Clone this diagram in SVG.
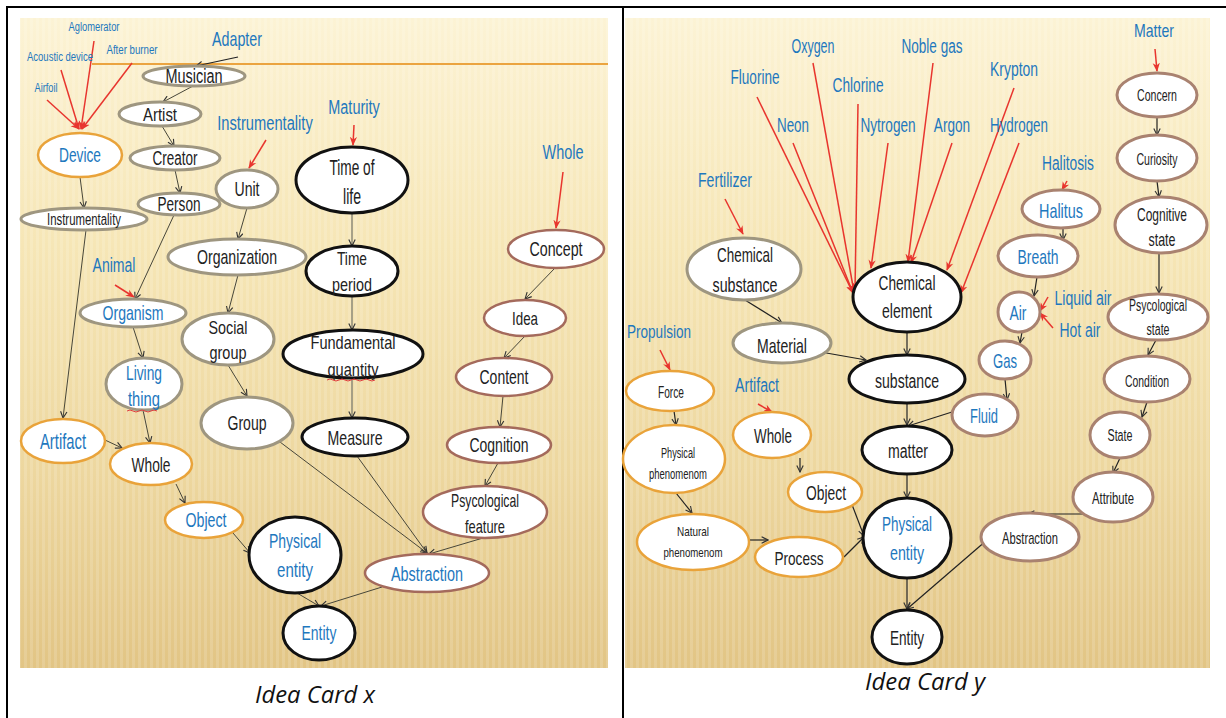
<svg xmlns="http://www.w3.org/2000/svg" width="1226" height="718" viewBox="0 0 1226 718">
<defs>
<linearGradient id="bg" x1="0" y1="0" x2="0" y2="1">
<stop offset="0" stop-color="#FCF3D5"/>
<stop offset="0.35" stop-color="#F6E6B6"/>
<stop offset="0.7" stop-color="#EDD79F"/>
<stop offset="1" stop-color="#E2C585"/>
</linearGradient>
<linearGradient id="ol" x1="0" y1="0" x2="1" y2="0">
<stop offset="0" stop-color="#F0B860" stop-opacity="0.3"/>
<stop offset="0.15" stop-color="#E59A2E"/>
<stop offset="1" stop-color="#EBA640"/>
</linearGradient>
<pattern id="st" width="6" height="10" patternUnits="userSpaceOnUse">
<rect x="0" y="0" width="3" height="10" fill="#FFFFFF" fill-opacity="0.14"/>
</pattern>
<marker id="ah" viewBox="0 0 10 10" refX="9" refY="5" markerWidth="8" markerHeight="8" markerUnits="userSpaceOnUse" orient="auto">
<path d="M1,1 L9,5 L1,9" fill="none" stroke="#333" stroke-width="1.4"/>
</marker>
<marker id="ar" viewBox="0 0 10 10" refX="9" refY="5" markerWidth="9" markerHeight="9" markerUnits="userSpaceOnUse" orient="auto">
<path d="M0,1 L10,5 L0,9 L3,5 z" fill="#E8352E"/>
</marker>
</defs>
<style>
.n ellipse{fill:#FFFFFF}
.g{stroke:#9E9680;stroke-width:3}
.o{stroke:#E9A33A;stroke-width:2.5}
.k{stroke:#111111;stroke-width:3}
.m{stroke:#A46A5C;stroke-width:2.5}
.m2{stroke:#A98270;stroke-width:3}
text{font-family:"Liberation Sans",Arial,sans-serif;text-anchor:middle;fill:#222222;font-size:20px}
.b{fill:#1E78BE}
.c path{fill:none;stroke:#48473A;stroke-width:1;marker-end:url(#ah)}
.c path.d{stroke:#222222;stroke-width:1.2}
.c path.gr{stroke:#8D8A78;stroke-width:1.5}
.c path.r{stroke:#E8352E;stroke-width:1.5;marker-end:url(#ar)}
.cap{font-family:"Open Sans","Noto Sans",sans-serif;font-style:italic;font-size:23px;fill:#111111}
</style>
<rect x="0" y="0" width="1226" height="718" fill="#FFFFFF"/>
<g id="backgrounds">
<rect x="20" y="18" width="588" height="650" fill="url(#bg)"/>
<rect x="20" y="18" width="588" height="650" fill="url(#st)"/>
<rect x="625" y="18" width="585" height="650" fill="url(#bg)"/>
<rect x="625" y="18" width="585" height="650" fill="url(#st)"/>
<line x1="92" y1="64" x2="608" y2="64" stroke="#EBA440" stroke-width="2"/>
<line x1="660" y1="39" x2="1210" y2="39" stroke="url(#ol)" stroke-width="3"/>
</g>
<g id="table" stroke="#000000" stroke-width="2" fill="none">
<line x1="6" y1="7" x2="1226" y2="7"/>
<line x1="7" y1="6" x2="7" y2="718"/>
<line x1="623" y1="6" x2="623" y2="718"/>
</g>
<g id="connectors" class="c">
<path class="d" d="M238,57 L196,66"/>
<path d="M193,86 L163,102"/>
<path d="M162,126 L174,146"/>
<path d="M175,170 L180,193"/>
<path d="M174,215 L135,299"/>
<path d="M247,208 L238,239"/>
<path d="M80,177 L84,208"/>
<path d="M86,230 L63,418"/>
<path d="M238,275 L228,313"/>
<path d="M228,365 L247,396"/>
<path d="M133,327 L143,358"/>
<path d="M143,410 L150,443"/>
<path d="M105,440 L122,448"/>
<path d="M176,484 L185,503"/>
<path d="M233,533 L250,553"/>
<path d="M280,442 L427,553"/>
<path d="M357,456 L427,553"/>
<path d="M483,538 L429,554"/>
<path class="gr" d="M352,213 L352,246"/>
<path class="gr" d="M352,296 L352,330"/>
<path class="gr" d="M352,378 L352,418"/>
<path d="M555,268 L525,299"/>
<path d="M525,336 L504,358"/>
<path d="M503,396 L500,427"/>
<path d="M498,463 L485,486"/>
<path d="M297,593 L319,606"/>
<path d="M382,587 L321,606"/>
<path class="r" d="M94,41 L81,129"/>
<path class="r" d="M61,70 L79,129"/>
<path class="r" d="M132,63 L82,129"/>
<path class="r" d="M47,100 L79,129"/>
<path class="r" d="M266,140 L249,168"/>
<path class="r" d="M354,125 L353,145"/>
<path class="r" d="M563,172 L556,228"/>
<path class="r" d="M115,285 L134,297"/>
<path class="r" d="M757,97 L853,293"/>
<path class="r" d="M813,63 L854,292"/>
<path class="r" d="M858,104 L855,290"/>
<path class="r" d="M793,143 L853,293"/>
<path class="r" d="M888,143 L871,268"/>
<path class="r" d="M933,63 L908,262"/>
<path class="r" d="M952,143 L911,263"/>
<path class="r" d="M1014,88 L947,270"/>
<path class="r" d="M1019,143 L961,293"/>
<path class="r" d="M725,199 L743,234"/>
<path class="r" d="M1155,49 L1157,71"/>
<path class="r" d="M1067,181 L1062,190"/>
<path class="r" d="M1048,297 L1040,311"/>
<path class="r" d="M1053,328 L1040,313"/>
<path class="r" d="M660,350 L670,370"/>
<path class="r" d="M758,404 L772,412"/>
<path class="d" d="M1157,117 L1157,135"/>
<path class="d" d="M1157,181 L1159,197"/>
<path class="d" d="M1159,253 L1159,293"/>
<path class="d" d="M1063,228 L1063,240"/>
<path class="d" d="M1037,277 L1034,296"/>
<path class="d" d="M1022,332 L1020,343"/>
<path class="d" d="M1005,379 L1007,400"/>
<path class="d" d="M952,412 L908,426"/>
<path class="d" d="M1156,340 L1148,355"/>
<path class="d" d="M1147,402 L1142,417"/>
<path class="d" d="M1120,458 L1113,473"/>
<path class="d" d="M1083,514 L1028,514"/>
<path class="d" d="M987,540 L907,609"/>
<path class="d" d="M745,300 L782,323"/>
<path class="d" d="M815,351 L866,360"/>
<path class="d" d="M907,332 L907,355"/>
<path class="d" d="M907,403 L907,425"/>
<path class="d" d="M907,474 L907,498"/>
<path class="d" d="M674,411 L676,425"/>
<path class="d" d="M800,458 L800,472"/>
<path class="d" d="M676,493 L692,513"/>
<path class="d" d="M749,540 L768,540"/>
<path class="d" d="M844,557 L864,537"/>
<path class="d" d="M851,502 L864,536"/>
<path class="d" d="M907,578 L907,609"/>
</g>
<g id="labels">
<text class="b" x="94" y="31" style="font-size:12px" textLength="51" lengthAdjust="spacingAndGlyphs">Aglomerator</text>
<text class="b" x="60" y="61" style="font-size:12px" textLength="66" lengthAdjust="spacingAndGlyphs">Acoustic device</text>
<text class="b" x="132" y="54" style="font-size:12px" textLength="51" lengthAdjust="spacingAndGlyphs">After burner</text>
<text class="b" x="46" y="92" style="font-size:12px" textLength="23" lengthAdjust="spacingAndGlyphs">Airfoil</text>
<text class="b" x="237" y="46" style="font-size:21px" textLength="50" lengthAdjust="spacingAndGlyphs">Adapter</text>
<text class="b" transform="translate(265,130) scale(0.7,1)" x="0" y="0" style="font-size:21px">Instrumentality</text>
<text class="b" transform="translate(354,114) scale(0.69,1)" x="0" y="0" style="font-size:21px">Maturity</text>
<text class="b" x="563" y="159" style="font-size:20px" textLength="41" lengthAdjust="spacingAndGlyphs">Whole</text>
<text class="b" x="114" y="272" style="font-size:20px" textLength="43" lengthAdjust="spacingAndGlyphs">Animal</text>
<text class="b" x="813" y="53" textLength="43" lengthAdjust="spacingAndGlyphs">Oxygen</text>
<text class="b" x="932" y="53" textLength="61" lengthAdjust="spacingAndGlyphs">Noble gas</text>
<text class="b" x="755" y="84" textLength="49" lengthAdjust="spacingAndGlyphs">Fluorine</text>
<text class="b" x="858" y="92" textLength="51" lengthAdjust="spacingAndGlyphs">Chlorine</text>
<text class="b" x="793" y="132" textLength="32" lengthAdjust="spacingAndGlyphs">Neon</text>
<text class="b" transform="translate(888,132) scale(0.68,1)" x="0" y="0">Nytrogen</text>
<text class="b" transform="translate(952,132) scale(0.68,1)" x="0" y="0">Argon</text>
<text class="b" x="725" y="187" textLength="54" lengthAdjust="spacingAndGlyphs">Fertilizer</text>
<text class="b" x="1014" y="76" textLength="48" lengthAdjust="spacingAndGlyphs">Krypton</text>
<text class="b" x="1019" y="132" textLength="58" lengthAdjust="spacingAndGlyphs">Hydrogen</text>
<text class="b" x="1068" y="170" textLength="52" lengthAdjust="spacingAndGlyphs">Halitosis</text>
<text class="b" x="1154" y="37" style="font-size:19px" textLength="40" lengthAdjust="spacingAndGlyphs">Matter</text>
<text class="b" x="1083" y="305" textLength="57" lengthAdjust="spacingAndGlyphs">Liquid air</text>
<text class="b" x="1080" y="337" textLength="41" lengthAdjust="spacingAndGlyphs">Hot air</text>
<text class="b" x="659" y="338" style="font-size:19px" textLength="64" lengthAdjust="spacingAndGlyphs">Propulsion</text>
<text class="b" x="757" y="392" textLength="44" lengthAdjust="spacingAndGlyphs">Artifact</text>
</g>
<g id="musician" class="n"><ellipse class="g" cx="194" cy="76" rx="51" ry="10"/><text x="194" y="83" textLength="57" lengthAdjust="spacingAndGlyphs">Musician</text></g>
<g id="artist" class="n"><ellipse class="g" cx="160" cy="114" rx="41" ry="12"/><text x="160" y="121" style="font-size:18px" textLength="34" lengthAdjust="spacingAndGlyphs">Artist</text></g>
<g id="creator" class="n"><ellipse class="g" cx="175" cy="158" rx="45" ry="12"/><text x="175" y="165" textLength="45" lengthAdjust="spacingAndGlyphs">Creator</text></g>
<g id="person" class="n"><ellipse class="g" cx="179" cy="204" rx="41" ry="11"/><text x="179" y="211" textLength="43" lengthAdjust="spacingAndGlyphs">Person</text></g>
<g id="device" class="n"><ellipse class="o" cx="80" cy="155" rx="42" ry="22"/><text class="b" x="80" y="162" style="font-size:21px" textLength="42" lengthAdjust="spacingAndGlyphs">Device</text></g>
<g id="instrumentality" class="n"><ellipse class="g" cx="84" cy="219" rx="63" ry="11"/><text x="84" y="225" style="font-size:16px" textLength="74" lengthAdjust="spacingAndGlyphs">Instrumentality</text></g>
<g id="unit" class="n"><ellipse class="g" cx="247" cy="189" rx="31" ry="19"/><text x="247" y="196" textLength="25" lengthAdjust="spacingAndGlyphs">Unit</text></g>
<g id="time-of-life" class="n"><ellipse class="k" cx="352" cy="180" rx="56" ry="33"/><text x="352" y="175" style="font-size:22px" textLength="45" lengthAdjust="spacingAndGlyphs">Time of</text><text x="352" y="204" style="font-size:22px" textLength="18" lengthAdjust="spacingAndGlyphs">life</text></g>
<g id="concept" class="n"><ellipse class="m" cx="556" cy="249" rx="48" ry="19"/><text x="556" y="256" style="font-size:21px" textLength="53" lengthAdjust="spacingAndGlyphs">Concept</text></g>
<g id="time-period" class="n"><ellipse class="k" cx="352" cy="271" rx="46" ry="25"/><text x="352" y="265" style="font-size:19px" textLength="30" lengthAdjust="spacingAndGlyphs">Time</text><text x="352" y="291" style="font-size:19px" textLength="40" lengthAdjust="spacingAndGlyphs">period</text></g>
<g id="idea" class="n"><ellipse class="m" cx="525" cy="318" rx="41" ry="18"/><text x="525" y="325" style="font-size:19px" textLength="26" lengthAdjust="spacingAndGlyphs">Idea</text></g>
<g id="fundamental-quantity" class="n"><ellipse class="k" cx="353" cy="354" rx="70" ry="24"/><text x="353" y="349" style="font-size:19px" textLength="85" lengthAdjust="spacingAndGlyphs">Fundamental</text><text x="353" y="376" style="font-size:19px" textLength="51" lengthAdjust="spacingAndGlyphs">quantity</text><path d="M327,380 q3,-2 6,0 t6,0 t6,0 t6,0 t6,0 t6,0 t6,0 t6,0" fill="none" stroke="#E04040" stroke-width="1"/></g>
<g id="content" class="n"><ellipse class="m" cx="504" cy="377" rx="48" ry="19"/><text x="504" y="384" style="font-size:21px" textLength="49" lengthAdjust="spacingAndGlyphs">Content</text></g>
<g id="organization" class="n"><ellipse class="g" cx="237" cy="257" rx="69" ry="18"/><text x="237" y="264" style="font-size:21px" textLength="80" lengthAdjust="spacingAndGlyphs">Organization</text></g>
<g id="organism" class="n"><ellipse class="g" cx="133" cy="313" rx="53" ry="14"/><text class="b" x="133" y="320" style="font-size:21px" textLength="61" lengthAdjust="spacingAndGlyphs">Organism</text></g>
<g id="social-group" class="n"><ellipse class="g" cx="228" cy="339" rx="46" ry="26"/><text x="228" y="334" style="font-size:19px" textLength="39" lengthAdjust="spacingAndGlyphs">Social</text><text x="228" y="359" style="font-size:19px" textLength="37" lengthAdjust="spacingAndGlyphs">group</text></g>
<g id="living-thing" class="n"><ellipse class="g" cx="144" cy="384" rx="38" ry="26"/><text class="b" x="144" y="380" style="font-size:21px" textLength="36" lengthAdjust="spacingAndGlyphs">Living</text><text class="b" x="144" y="406" style="font-size:21px" textLength="32" lengthAdjust="spacingAndGlyphs">thing</text><path d="M127,411 q3,-2 6,0 t6,0 t6,0 t6,0 t6,0" fill="none" stroke="#E04040" stroke-width="1"/></g>
<g id="group" class="n"><ellipse class="g" cx="247" cy="423" rx="46" ry="26"/><text x="247" y="430" style="font-size:21px" textLength="39" lengthAdjust="spacingAndGlyphs">Group</text></g>
<g id="artifact-x" class="n"><ellipse class="o" cx="63" cy="441" rx="42" ry="22"/><text class="b" x="63" y="449" style="font-size:22px" textLength="46" lengthAdjust="spacingAndGlyphs">Artifact</text></g>
<g id="whole-x" class="n"><ellipse class="o" cx="151" cy="464" rx="41" ry="21"/><text x="151" y="472" style="font-size:21px" textLength="39" lengthAdjust="spacingAndGlyphs">Whole</text></g>
<g id="measure" class="n"><ellipse class="k" cx="355" cy="437" rx="53" ry="19"/><text x="355" y="445" style="font-size:21px" textLength="55" lengthAdjust="spacingAndGlyphs">Measure</text></g>
<g id="cognition" class="n"><ellipse class="m" cx="499" cy="445" rx="52" ry="18"/><text x="499" y="452" style="font-size:21px" textLength="59" lengthAdjust="spacingAndGlyphs">Cognition</text></g>
<g id="psycological-feature" class="n"><ellipse class="m" cx="485" cy="512" rx="62" ry="26"/><text x="485" y="507" style="font-size:19px" textLength="68" lengthAdjust="spacingAndGlyphs">Psycological</text><text x="485" y="533" style="font-size:19px" textLength="40" lengthAdjust="spacingAndGlyphs">feature</text></g>
<g id="object-x" class="n"><ellipse class="o" cx="204" cy="520" rx="39" ry="18"/><text class="b" x="206" y="527" style="font-size:21px" textLength="41" lengthAdjust="spacingAndGlyphs">Object</text></g>
<g id="physical-entity-x" class="n"><ellipse class="k" cx="295" cy="555" rx="46" ry="38"/><text class="b" x="295" y="548" style="font-size:21px" textLength="52" lengthAdjust="spacingAndGlyphs">Physical</text><text class="b" x="295" y="577" style="font-size:21px" textLength="36" lengthAdjust="spacingAndGlyphs">entity</text></g>
<g id="abstraction-x" class="n"><ellipse class="m" cx="427" cy="573" rx="62" ry="19"/><text class="b" x="427" y="581" style="font-size:21px" textLength="72" lengthAdjust="spacingAndGlyphs">Abstraction</text></g>
<g id="entity-x" class="n"><ellipse class="k" cx="319" cy="633" rx="36" ry="27"/><text class="b" x="319" y="640" style="font-size:20px" textLength="35" lengthAdjust="spacingAndGlyphs">Entity</text></g>
<g id="concern" class="n"><ellipse class="m2" cx="1157" cy="95" rx="40" ry="22"/><text x="1157" y="101" style="font-size:16px" textLength="40" lengthAdjust="spacingAndGlyphs">Concern</text></g>
<g id="curiosity" class="n"><ellipse class="m2" cx="1157" cy="158" rx="40" ry="23"/><text x="1157" y="165" style="font-size:16px" textLength="41" lengthAdjust="spacingAndGlyphs">Curiosity</text></g>
<g id="cognitive-state" class="n"><ellipse class="m2" cx="1161" cy="225" rx="46" ry="28"/><text x="1162" y="221" style="font-size:19px" textLength="50" lengthAdjust="spacingAndGlyphs">Cognitive</text><text x="1162" y="246" style="font-size:19px" textLength="27" lengthAdjust="spacingAndGlyphs">state</text></g>
<g id="halitus" class="n"><ellipse class="m2" cx="1061" cy="209" rx="39" ry="19"/><text class="b" x="1061" y="218" style="font-size:21px" textLength="44" lengthAdjust="spacingAndGlyphs">Halitus</text></g>
<g id="breath" class="n"><ellipse class="m2" cx="1038" cy="256" rx="40" ry="21"/><text class="b" x="1038" y="264" style="font-size:21px" textLength="41" lengthAdjust="spacingAndGlyphs">Breath</text></g>
<g id="chemical-element" class="n"><ellipse class="k" cx="907" cy="297" rx="54" ry="35"/><text x="907" y="290" style="font-size:21px" textLength="57" lengthAdjust="spacingAndGlyphs">Chemical</text><text x="907" y="318" style="font-size:21px" textLength="50" lengthAdjust="spacingAndGlyphs">element</text></g>
<g id="chemical-substance" class="n"><ellipse class="g" cx="744" cy="269" rx="57" ry="31"/><text x="745" y="262" style="font-size:21px" textLength="56" lengthAdjust="spacingAndGlyphs">Chemical</text><text x="745" y="292" style="font-size:21px" textLength="65" lengthAdjust="spacingAndGlyphs">substance</text></g>
<g id="air" class="n"><ellipse class="m2" cx="1019" cy="312" rx="21" ry="20"/><text class="b" x="1018" y="320" style="font-size:21px" textLength="17" lengthAdjust="spacingAndGlyphs">Air</text></g>
<g id="psycological-state" class="n"><ellipse class="m2" cx="1158" cy="317" rx="50" ry="23"/><text x="1158" y="311" style="font-size:16px" textLength="58" lengthAdjust="spacingAndGlyphs">Psycological</text><text x="1158" y="335" style="font-size:16px" textLength="23" lengthAdjust="spacingAndGlyphs">state</text></g>
<g id="material" class="n"><ellipse class="g" cx="782" cy="343" rx="49" ry="20"/><text x="782" y="353" style="font-size:21px" textLength="50" lengthAdjust="spacingAndGlyphs">Material</text></g>
<g id="gas" class="n"><ellipse class="m2" cx="1005" cy="360" rx="26" ry="19"/><text class="b" x="1005" y="368" style="font-size:21px" textLength="24" lengthAdjust="spacingAndGlyphs">Gas</text></g>
<g id="condition" class="n"><ellipse class="m2" cx="1147" cy="379" rx="43" ry="23"/><text x="1147" y="387" style="font-size:17px" textLength="44" lengthAdjust="spacingAndGlyphs">Condition</text></g>
<g id="substance" class="n"><ellipse class="k" cx="907" cy="379" rx="58" ry="24"/><text x="907" y="388" style="font-size:20px" textLength="64" lengthAdjust="spacingAndGlyphs">substance</text></g>
<g id="force" class="n"><ellipse class="o" cx="670" cy="391" rx="44" ry="20"/><text x="671" y="398" style="font-size:16px" textLength="26" lengthAdjust="spacingAndGlyphs">Force</text></g>
<g id="fluid" class="n"><ellipse class="m2" cx="985" cy="415" rx="33" ry="21"/><text class="b" x="984" y="423" style="font-size:21px" textLength="28" lengthAdjust="spacingAndGlyphs">Fluid</text></g>
<g id="state" class="n"><ellipse class="m2" cx="1120" cy="435" rx="30" ry="23"/><text x="1120" y="441" style="font-size:16px" textLength="25" lengthAdjust="spacingAndGlyphs">State</text></g>
<g id="whole-y" class="n"><ellipse class="o" cx="772" cy="435" rx="39" ry="23"/><text x="773" y="443" style="font-size:21px" textLength="38" lengthAdjust="spacingAndGlyphs">Whole</text></g>
<g id="matter" class="n"><ellipse class="k" cx="907" cy="450" rx="45" ry="24"/><text x="908" y="458" style="font-size:20px" textLength="40" lengthAdjust="spacingAndGlyphs">matter</text></g>
<g id="physical-phenomenom" class="n"><ellipse class="o" cx="674" cy="459" rx="51" ry="34"/><text x="678" y="458" style="font-size:14px" textLength="34" lengthAdjust="spacingAndGlyphs">Physical</text><text x="678" y="479" style="font-size:14px" textLength="58" lengthAdjust="spacingAndGlyphs">phenomenom</text></g>
<g id="object-y" class="n"><ellipse class="o" cx="825" cy="492" rx="37" ry="20"/><text x="826" y="500" style="font-size:20px" textLength="40" lengthAdjust="spacingAndGlyphs">Object</text></g>
<g id="physical-entity-y" class="n"><ellipse class="k" cx="907" cy="538" rx="44" ry="40"/><text class="b" x="907" y="531" style="font-size:21px" textLength="50" lengthAdjust="spacingAndGlyphs">Physical</text><text class="b" x="907" y="560" style="font-size:21px" textLength="34" lengthAdjust="spacingAndGlyphs">entity</text></g>
<g id="natural-phenomenom" class="n"><ellipse class="o" cx="693" cy="542" rx="56" ry="28"/><text x="693" y="536" style="font-size:13px" textLength="32" lengthAdjust="spacingAndGlyphs">Natural</text><text x="693" y="557" style="font-size:13px" textLength="59" lengthAdjust="spacingAndGlyphs">phenomenom</text></g>
<g id="process" class="n"><ellipse class="o" cx="799" cy="557" rx="44" ry="20"/><text x="799" y="565" style="font-size:19px" textLength="49" lengthAdjust="spacingAndGlyphs">Process</text></g>
<g id="abstraction-y" class="n"><ellipse class="m2" cx="1030" cy="537" rx="49" ry="24"/><text x="1030" y="544" style="font-size:17px" textLength="56" lengthAdjust="spacingAndGlyphs">Abstraction</text></g>
<g id="attribute" class="n"><ellipse class="m2" cx="1113" cy="497" rx="40" ry="25"/><text x="1113" y="504" style="font-size:16px" textLength="42" lengthAdjust="spacingAndGlyphs">Attribute</text></g>
<g id="entity-y" class="n"><ellipse class="k" cx="907" cy="637" rx="35" ry="27"/><text x="907" y="645" style="font-size:21px" textLength="34" lengthAdjust="spacingAndGlyphs">Entity</text></g>
<g id="captions">
<text class="cap" x="315" y="703" textLength="120" lengthAdjust="spacingAndGlyphs">Idea Card x</text>
<text class="cap" x="925" y="690" textLength="120" lengthAdjust="spacingAndGlyphs">Idea Card y</text>
</g>
</svg>
